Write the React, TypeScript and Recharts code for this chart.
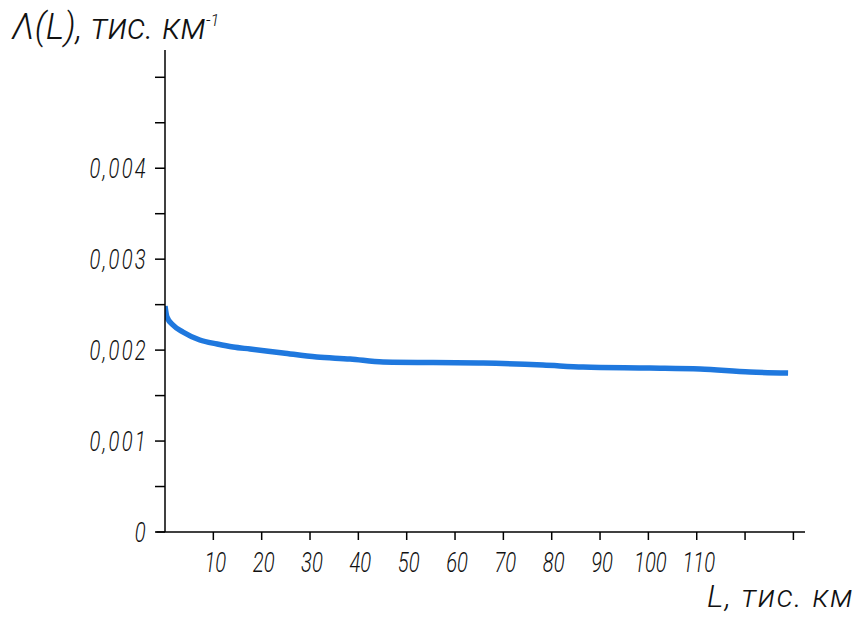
import React from 'react'
import { LineChart, Line, XAxis, YAxis, ReferenceLine } from 'recharts'

// L, тис. км
const distance = [0, 0.4, 1.65, 3.7, 7.2, 10.8, 14.1, 17.6, 24.4, 31.4, 38.3, 45.1, 65.8, 78.2, 86.5, 100.3, 110.7, 121, 128.9]
// Λ(L), тис. км^-1
const intensity = [0.002485, 0.002364, 0.002276, 0.002199, 0.002111, 0.002067, 0.002034, 0.002012, 0.001968, 0.001924, 0.001902, 0.001869, 0.001858, 0.001836, 0.001814, 0.001803, 0.001792, 0.001759, 0.001748]

const xTicks = [10, 20, 30, 40, 50, 60, 70, 80, 90, 100, 110, 120, 130]
const xLabeled = [10, 20, 30, 40, 50, 60, 70, 80, 90, 100, 110]
const yTicks = [0, 0.0005, 0.001, 0.0015, 0.002, 0.0025, 0.003, 0.0035, 0.004, 0.0045, 0.005]
const yLabeled = [0, 0.001, 0.002, 0.003, 0.004]

const FONT = 'Roboto, "DejaVu Sans Condensed", sans-serif'
const INK = '#111'

const data = distance.map((d, i) => ({ L: d, value: intensity[i] }))

const fmtY = (v: number) => (v === 0 ? '0' : v.toFixed(3).replace('.', ','))

const XTick = ({ x, y, payload }: any) => {
  const show = xLabeled.includes(payload.value)
  if (!show) return null
  return (
    <g transform={`translate(${x + 2},${y + 32}) scale(0.75,1)`}>
      <text textAnchor="middle" fontSize={27} fontStyle="italic" fontWeight={300} fontFamily={FONT} fill={INK}>
        {payload.value}
      </text>
    </g>
  )
}

const YTick = ({ x, y, payload }: any) => {
  const show = yLabeled.some(m => Math.abs(m - payload.value) < 1e-9)
  if (!show) return null
  return (
    <g transform={`translate(${x - 7},${y + 10}) scale(0.75,1)`}>
      <text textAnchor="end" fontSize={27} fontStyle="italic" fontWeight={300} fontFamily={FONT} fill={INK} letterSpacing={3}>
        {fmtY(payload.value)}
      </text>
    </g>
  )
}

export default function App() {
  return (
    <div style={{ position: 'absolute', left: 0, top: 0, width: 867, height: 619, background: '#fff' }}>
      <div style={{
        position: 'absolute', left: 12, top: 6, fontSize: 36, fontStyle: 'italic', fontWeight: 300,
        fontFamily: FONT, color: INK, whiteSpace: 'nowrap',
      }}>
        Λ(L), тис. км<sup style={{ fontSize: '0.45em' }}>-1</sup>
      </div>
      <div style={{
        position: 'absolute', left: 707, top: 577, fontSize: 32, fontStyle: 'italic', fontWeight: 300,
        fontFamily: FONT, color: INK, whiteSpace: 'nowrap', letterSpacing: 1.5,
      }}>
        L, тис. км
      </div>
      <LineChart width={867} height={619} data={data} margin={{ top: 50, right: 62, bottom: 47, left: 105 }}>
        <XAxis
          dataKey="L"
          type="number"
          domain={[0, 132.4]}
          ticks={xTicks}
          allowDataOverflow
          axisLine={{ stroke: '#000', strokeWidth: 1.5 }}
          tickLine={{ stroke: '#000', strokeWidth: 1.5 }}
          tickSize={8}
          tickMargin={0}
          height={40}
          tick={<XTick />}
          interval={0}
        />
        <YAxis
          type="number"
          domain={[0, 0.0053]}
          ticks={yTicks}
          allowDataOverflow
          axisLine={{ stroke: '#000', strokeWidth: 1.5 }}
          tickLine={{ stroke: '#000', strokeWidth: 1.5 }}
          tickSize={10}
          tickMargin={0}
          width={60}
          tick={<YTick />}
          interval={0}
        />
        <ReferenceLine
          segment={[{ x: -1.8, y: 0 }, { x: 0, y: 0 }]}
          stroke="#000"
          strokeWidth={1.5}
          ifOverflow="visible"
        />
        <Line
          type="monotone"
          dataKey="value"
          stroke="#1f78de"
          strokeWidth={5.5}
          dot={false}
          isAnimationActive={false}
        />
      </LineChart>
    </div>
  )
}
